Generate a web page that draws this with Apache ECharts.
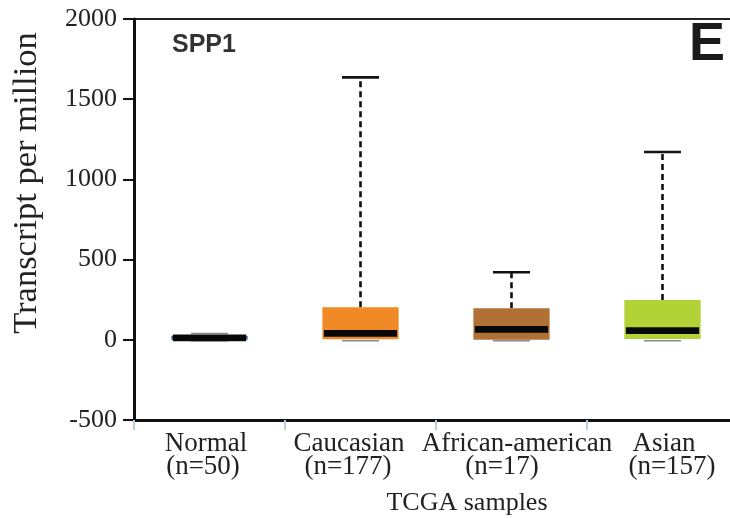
<!DOCTYPE html>
<html>
<head>
<meta charset="utf-8">
<script src="https://cdn.jsdelivr.net/npm/echarts@6/dist/echarts.min.js"></script>
<style>html,body{margin:0;padding:0;background:#fff}#c{width:730px;height:518px}</style>
</head>
<body>
<div id="c"></div>
<script>
// ---- data ----
const groups = ['Normal', 'Caucasian', 'African-american', 'Asian'];
const counts = ['(n=50)', '(n=177)', '(n=17)', '(n=157)'];
const whiskerLow = [0, 0, 0, 0];
const q1 = [0, 3, 0, 5];
const median = [12, 40, 65, 57];
const q3 = [25, 203, 196, 248];
const whiskerHigh = [40, 1636, 421, 1171];
const yTicks = [-500, 0, 500, 1000, 1500, 2000];

// ---- style ----
const boxColors = ['#3f5fae', '#f08a26', '#b07036', '#b2d235'];
const lineShift = [[-3.5, -6.5], [-11.5, -12.5], [5.5, -9.5], [1.5, 9.5]];
const serif = '"Liberation Serif", "Times New Roman", serif';

const categories = groups.map((g, i) => g + '\n' + counts[i]);
const seriesData = groups.map((g, i) => [i, whiskerLow[i], q1[i], median[i], q3[i], whiskerHigh[i]]);

const rich = {};
lineShift.forEach((pair, i) => {
  pair.forEach((s, j) => {
    rich['l' + i + '_' + j] = {
      fontFamily: serif, fontSize: 27, color: '#222', lineHeight: 23,
      padding: s >= 0 ? [0, 0, 0, 2 * s] : [0, -2 * s, 0, 0]
    };
  });
});

function renderItem(params, api) {
  const i = api.value(0);
  const band = api.size([1, 0])[0];
  const boxW = band * 0.505;
  const capW = band * 0.245;
  const pLow = api.coord([i, api.value(1)]);
  const pQ1 = api.coord([i, api.value(2)]);
  const pMed = api.coord([i, api.value(3)]);
  const pQ3 = api.coord([i, api.value(4)]);
  const pHigh = api.coord([i, api.value(5)]);
  const x = pMed[0];
  const children = [];
  const upperLen = pQ3[1] - pHigh[1];
  const thinCap = { stroke: '#8a8a8a', lineWidth: 1.5 };
  const boldCap = { stroke: '#111', lineWidth: 2.6 };
  if (upperLen > 6) {
    children.push({ type: 'line', shape: { x1: x, y1: pQ3[1], x2: x, y2: pHigh[1] },
      style: { stroke: '#111', lineWidth: 2.6, lineDash: [6, 4] } });
  }
  children.push({ type: 'line', shape: { x1: x - capW / 2, y1: pHigh[1], x2: x + capW / 2, y2: pHigh[1] },
    style: upperLen > 6 ? boldCap : thinCap });
  children.push({ type: 'line', shape: { x1: x - capW / 2, y1: pLow[1] + 1, x2: x + capW / 2, y2: pLow[1] + 1 },
    style: thinCap });
  children.push({ type: 'rect', shape: { x: x - boxW / 2, y: pQ3[1], width: boxW, height: Math.max(pQ1[1] - pQ3[1], 1) },
    style: { fill: boxColors[i] } });
  children.push({ type: 'rect', shape: { x: x - boxW / 2 + 1.5, y: pMed[1] - 3.3, width: boxW - 3, height: 6.6 },
    style: { fill: '#080808' } });
  return { type: 'group', children: children };
}

const chart = echarts.init(document.getElementById('c'), null, { renderer: 'canvas' });
chart.setOption({
  backgroundColor: '#fff',
  animation: false,
  grid: { left: 134, top: 19, width: 604, height: 401, show: true, borderColor: '#222', borderWidth: 2, backgroundColor: '#fff', containLabel: false, outerBoundsMode: 'none' },
  xAxis: {
    type: 'category',
    data: categories,
    boundaryGap: true,
    axisLine: { onZero: false, lineStyle: { color: '#111', width: 3 } },
    axisTick: { show: true, interval: 0, length: 10, lineStyle: { color: '#b8cde2', width: 2 } },
    axisLabel: {
      interval: 0, margin: 12, hideOverlap: false,
      formatter: function (v, idx) {
        const parts = v.split('\n');
        return '{l' + idx + '_0|' + parts[0] + '}\n{l' + idx + '_1|' + parts[1] + '}';
      },
      rich: rich
    },
    splitLine: { show: false }
  },
  yAxis: {
    type: 'value',
    min: yTicks[0], max: yTicks[yTicks.length - 1], interval: 500,
    axisLine: { show: true, lineStyle: { color: '#111', width: 3 } },
    axisTick: { show: true, length: 11, lineStyle: { color: '#111', width: 2 } },
    axisLabel: { margin: 17, fontFamily: serif, fontSize: 26, color: '#222', formatter: function (v) { return String(v); } },
    splitLine: { show: false }
  },
  graphic: [
    { type: 'text', left: 172, top: 33, style: { text: 'SPP1', font: 'bold 25px "Liberation Sans", Arial, sans-serif', fill: '#333' } },
    { type: 'text', left: 689, top: 18, style: { text: 'E', font: 'bold 54px "Liberation Sans", Arial, sans-serif', fill: '#1a1a1a' } },
    { type: 'text', x: 27, y: 183, rotation: Math.PI / 2,
      style: { text: 'Transcript per million', font: '34.5px ' + serif, fill: '#222', align: 'center', verticalAlign: 'middle' } },
    { type: 'text', x: 467, y: 503,
      style: { text: 'TCGA samples', font: '26px ' + serif, fill: '#222', align: 'center', verticalAlign: 'middle' } }
  ],
  series: [{
    type: 'custom',
    renderItem: renderItem,
    encode: { x: 0, y: [1, 2, 3, 4, 5] },
    data: seriesData,
    clip: false
  }]
});
</script>
</body>
</html>
